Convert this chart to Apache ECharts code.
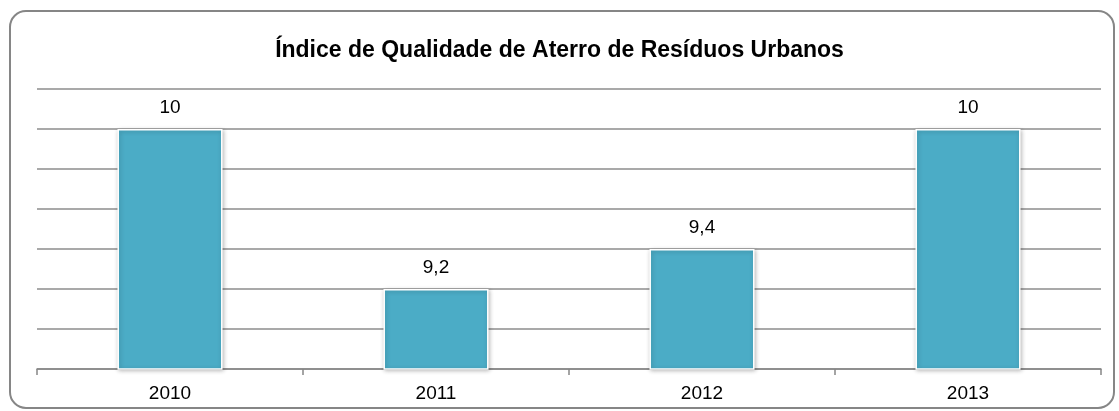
<!DOCTYPE html>
<html>
<head>
<meta charset="utf-8">
<script src="https://cdn.jsdelivr.net/npm/echarts@6/dist/echarts.min.js"></script>
<style>
  html, body { margin: 0; padding: 0; background: #fff; }
  #chart { width: 1119px; height: 411px; }
</style>
</head>
<body>
<div id="chart"></div>
<script>
// Landfill quality index by year
const categories = ['2010', '2011', '2012', '2013'];
const indexValues = [10, 9.2, 9.4, 10];
const chartTitle = 'Índice de Qualidade de Aterro de Resíduos Urbanos';

const chart = echarts.init(document.getElementById('chart'), null, { renderer: 'canvas' });

chart.setOption({
  backgroundColor: '#ffffff',
  animation: false,
  title: {
    text: chartTitle,
    left: 'center',
    top: 34,
    textStyle: {
      fontFamily: 'Liberation Sans, Arial, sans-serif',
      fontSize: 23,
      fontWeight: 'bold',
      color: '#000'
    }
  },
  graphic: [{
    type: 'rect',
    shape: { x: 10, y: 11, width: 1104, height: 397, r: 16 },
    style: { fill: 'none', stroke: '#868686', lineWidth: 2 },
    z: 0
  }],
  grid: { left: 37, right: 18, top: 89, bottom: 42 },
  xAxis: {
    type: 'category',
    data: categories,
    axisLine: { lineStyle: { color: '#868686', width: 1.5 } },
    axisTick: { show: true, length: 6, lineStyle: { color: '#868686', width: 1.5 } },
    axisLabel: {
      color: '#000',
      fontSize: 19,
      fontFamily: 'Liberation Sans, Arial, sans-serif',
      margin: 15
    }
  },
  yAxis: {
    type: 'value',
    min: 8.8,
    max: 10.2,
    interval: 0.2,
    axisLabel: { show: false },
    axisLine: { show: false },
    axisTick: { show: false },
    splitLine: { lineStyle: { color: '#8c8c8c', width: 1.5 } }
  },
  series: [{
    type: 'bar',
    data: indexValues,
    barWidth: '39.5%',
    itemStyle: {
      color: '#4BACC6',
      borderColor: '#ffffff',
      borderWidth: 1.5,
      shadowBlur: 4,
      shadowColor: 'rgba(0,0,0,0.25)',
      shadowOffsetX: 1,
      shadowOffsetY: 1
    },
    label: {
      show: true,
      position: 'top',
      distance: 12,
      color: '#000',
      fontSize: 19,
      fontFamily: 'Liberation Sans, Arial, sans-serif',
      formatter: p => String(p.value).replace('.', ',')
    }
  }]
});
</script>
</body>
</html>
